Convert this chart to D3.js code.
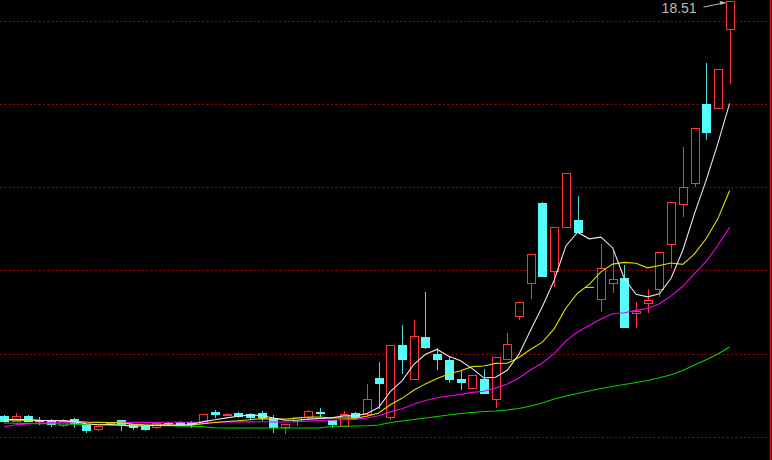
<!DOCTYPE html>
<html><head><meta charset="utf-8">
<script src="https://cdn.jsdelivr.net/npm/d3@7/dist/d3.min.js"></script>
<style>html,body{margin:0;padding:0;background:#000;overflow:hidden}</style>
</head><body><svg id="c" width="772" height="460"></svg>
<script>
// ---- data ----
const openP  = [6.05,5.91,6.05,5.92,5.93,5.78,5.97,5.81,5.65,5.80,5.93,5.81,5.75,5.72,5.85,5.87,5.86,5.85,6.17,6.08,6.14,6.11,6.14,5.99,5.73,5.90,6.03,6.18,5.93,5.76,6.14,6.11,7.19,6.03,8.18,7.15,8.43,7.91,7.73,7.17,6.88,7.15,6.56,7.77,9.06,10.03,12.44,10.41,11.72,11.94,9.93,9.55,10.03,10.19,9.13,9.44,9.87,11.21,12.42,13.04,15.42,15.29,17.66];
const highP  = [6.08,6.13,6.07,6.02,5.95,5.96,5.99,5.81,5.76,5.85,5.93,5.82,5.76,5.87,5.87,5.90,5.90,6.11,6.23,6.15,6.17,6.14,6.21,6.08,5.81,6.03,6.23,6.29,5.93,6.20,6.18,7.01,7.66,8.17,8.78,8.93,9.78,8.08,7.81,7.43,7.27,7.45,7.83,8.53,9.48,10.92,12.47,11.74,13.36,12.66,9.93,11.23,11.01,10.59,9.48,9.87,10.96,12.49,14.12,14.71,16.64,16.47,18.51];
const lowP   = [5.88,5.90,5.90,5.81,5.75,5.75,5.73,5.58,5.63,5.78,5.63,5.66,5.63,5.69,5.78,5.78,5.72,5.85,6.03,6.08,6.01,5.96,5.93,5.58,5.54,5.78,5.96,6.06,5.73,5.76,5.99,6.08,6.29,5.95,7.34,7.15,8.09,7.45,7.08,6.85,6.88,6.73,6.32,7.77,8.95,9.59,10.25,9.95,11.72,11.57,9.93,9.21,9.77,8.73,8.71,9.18,9.64,10.53,12.06,12.96,14.36,15.29,16.04];
const closeP = [5.90,6.05,5.91,5.90,5.81,5.90,5.85,5.63,5.75,5.83,5.81,5.72,5.67,5.84,5.83,5.81,5.82,6.11,6.11,6.12,6.05,6.03,6.01,5.73,5.81,6.03,6.20,6.13,5.80,6.11,6.03,6.56,7.03,8.17,7.75,8.46,8.11,7.75,7.15,7.08,7.27,6.73,7.83,8.21,9.48,10.92,10.25,11.74,13.36,11.57,9.93,10.50,10.16,8.73,9.21,9.54,10.96,12.49,12.94,14.71,14.57,16.47,18.51];

const ma5  = [5.93,5.95,5.94,5.92,5.914,5.914,5.874,5.818,5.788,5.792,5.774,5.748,5.756,5.774,5.774,5.774,5.794,5.882,5.936,5.994,6.042,6.084,6.064,5.988,5.926,5.922,5.956,5.980,5.994,6.054,6.054,6.126,6.306,6.780,7.108,7.594,7.904,8.048,7.844,7.710,7.472,7.196,7.212,7.424,7.904,8.634,9.338,10.120,11.150,11.568,11.370,11.420,11.104,10.178,9.706,9.628,9.720,10.186,11.028,12.128,13.134,14.236,15.440];
const ma10 = [5.93,5.93,5.92,5.92,5.91,5.90,5.89,5.87,5.86,5.853,5.844,5.811,5.787,5.781,5.783,5.774,5.771,5.819,5.855,5.884,5.908,5.939,5.973,5.962,5.960,5.982,6.020,6.022,5.991,5.990,5.988,6.041,6.143,6.387,6.581,6.824,7.015,7.177,7.312,7.409,7.533,7.550,7.630,7.634,7.807,8.053,8.267,8.666,9.287,9.736,10.002,10.379,10.612,10.664,10.637,10.499,10.570,10.645,10.603,10.917,11.381,11.978,12.813];
const ma20 = [5.73,5.79,5.81,5.84,5.85,5.85,5.85,5.855,5.855,5.855,5.86,5.86,5.86,5.86,5.865,5.865,5.865,5.865,5.865,5.869,5.876,5.875,5.880,5.872,5.872,5.878,5.896,5.921,5.923,5.937,5.948,5.990,6.058,6.175,6.271,6.403,6.518,6.600,6.652,6.700,6.761,6.796,6.887,7.011,7.194,7.439,7.641,7.922,8.300,8.573,8.768,8.965,9.121,9.149,9.222,9.276,9.419,9.656,9.945,10.327,10.692,11.179,11.713];
const ma60 = [5.840,5.834,5.828,5.822,5.816,5.810,5.804,5.798,5.792,5.786,5.780,5.774,5.768,5.762,5.756,5.750,5.741,5.726,5.696,5.690,5.690,5.690,5.690,5.690,5.690,5.690,5.690,5.690,5.741,5.744,5.750,5.759,5.780,5.855,5.900,5.945,5.990,6.035,6.080,6.126,6.156,6.186,6.201,6.231,6.276,6.351,6.441,6.561,6.651,6.726,6.801,6.876,6.936,6.996,7.056,7.116,7.200,7.290,7.420,7.580,7.740,7.910,8.120];

const gridPrices = [17.92, 15.42, 12.92, 10.42, 7.92, 5.42];
const maxLabel = "18.51";

// ---- drawing ----
const W = 772, H = 460;
const svg = d3.select("#c");
svg.append("rect").attr("width", W).attr("height", H).attr("fill", "#000");

const x = d3.scaleLinear().domain([0, closeP.length - 1]).range([4.2, 729.6]);
const y = d3.scaleLinear().domain([5.42, 17.92]).range([437, 20.7]);

// grid (dotted dark red)
svg.append("g").selectAll("line").data(gridPrices).join("line")
  .attr("x1", 0).attr("x2", 768)
  .attr("y1", d => Math.round(y(d)) + 0.5).attr("y2", d => Math.round(y(d)) + 0.5)
  .attr("stroke", "#a00000").attr("stroke-width", 1)
  .attr("stroke-dasharray", "2 2.3");

// right border
svg.append("line").attr("x1", 770.5).attr("x2", 770.5).attr("y1", 0).attr("y2", H)
  .attr("stroke", "#d01010").attr("stroke-width", 1.5);

const RED = "#ff3434", CYAN = "#54fcfc", CYAN_W = "#4cd8d8", FLAT = "#b8b8b8";
const gC = svg.append("g");
closeP.forEach((c, i) => {
  const o = openP[i], h = highP[i], l = lowP[i];
  const cx = Math.round(x(i));
  const yo = Math.round(y(o)), yc = Math.round(y(c)), yh = Math.round(y(h)), yl = Math.round(y(l));
  if (c > o) {
    gC.append("line").attr("x1", cx + 0.5).attr("x2", cx + 0.5).attr("y1", yh).attr("y2", yl + 1).attr("stroke", RED);
    gC.append("rect").attr("x", cx - 4 + 0.5).attr("y", yc + 0.5).attr("width", 8).attr("height", Math.max(1, yo - yc))
      .attr("fill", "#000").attr("stroke", RED).attr("stroke-width", 1);
  } else if (c < o) {
    gC.append("line").attr("x1", cx + 0.5).attr("x2", cx + 0.5).attr("y1", yh).attr("y2", yl + 1).attr("stroke", CYAN_W);
    gC.append("rect").attr("x", cx - 4).attr("y", yo).attr("width", 9).attr("height", Math.max(1, yc - yo + 1))
      .attr("fill", CYAN);
  } else {
    gC.append("line").attr("x1", cx + 0.5).attr("x2", cx + 0.5).attr("y1", yh).attr("y2", yl + 1).attr("stroke", FLAT);
    gC.append("line").attr("x1", cx - 4).attr("x2", cx + 5).attr("y1", yc + 0.5).attr("y2", yc + 0.5).attr("stroke", FLAT);
  }
});

// moving averages
const line = d3.line().x((d, i) => x(i)).y(d => y(d));
[[ma60, "#00d400"], [ma20, "#f000f0"], [ma10, "#e0e000"], [ma5, "#e6e6e6"]].forEach(([s, col]) => {
  svg.append("path").attr("d", line(s)).attr("fill", "none").attr("stroke", col).attr("stroke-width", 1.1);
});

// max label
const last = closeP.length - 1;
const tipX = x(last) - 4, tipY = y(highP[last]) + 1;
svg.append("text").attr("x", tipX - 64).attr("y", tipY + 11)
  .attr("font-family", "Liberation Sans, Arial, sans-serif").attr("font-size", 14)
  .attr("fill", "#bdbdbd").text(maxLabel);
svg.append("line").attr("x1", tipX - 22).attr("y1", tipY + 5).attr("x2", tipX).attr("y2", tipY + 0.5)
  .attr("stroke", "#bdbdbd").attr("stroke-width", 1);
svg.append("path").attr("d", `M${tipX},${tipY + 0.5} l-6,-1.5 l1,4 z`).attr("fill", "#bdbdbd");
</script></body></html>
